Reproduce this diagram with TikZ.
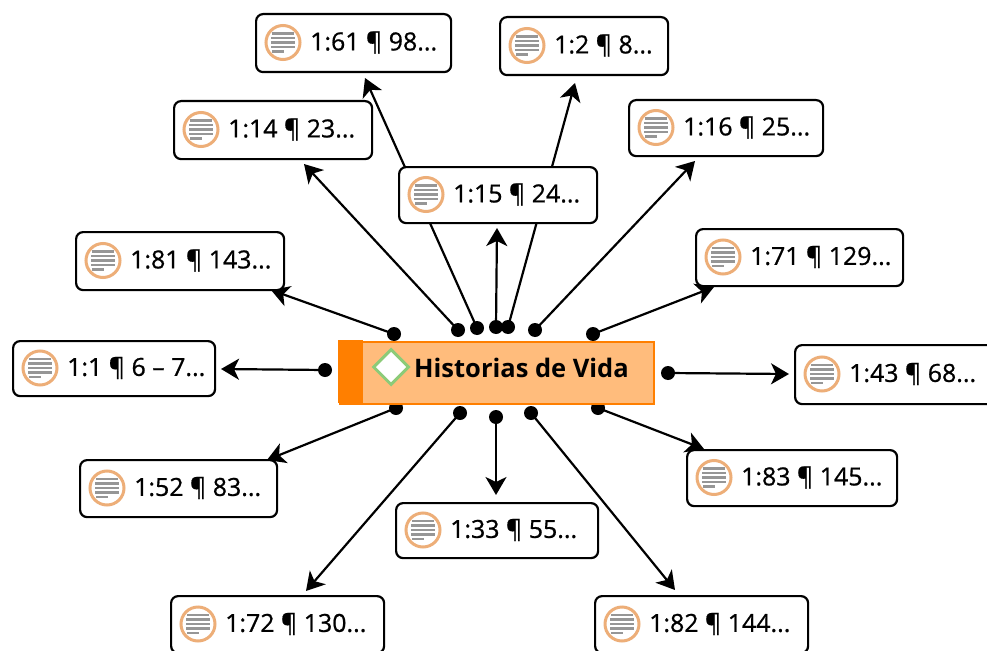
\documentclass[tikz,border=0pt]{standalone}
\usepackage{fontspec}
\setmainfont{Open Sans}
\usetikzlibrary{arrows.meta,shapes.geometric,calc}
\definecolor{ochre}{HTML}{EDAE78}
\definecolor{centrefill}{HTML}{FFBC7C}
\definecolor{centreedge}{HTML}{FF7F00}
\definecolor{diaedge}{HTML}{8CCB78}
\definecolor{barcol}{HTML}{969696}
\tikzset{
  x=1pt,y=-1pt,
  quotebox/.style={draw=black,line width=2.2pt,rounded corners=7pt,fill=white,inner sep=0pt,anchor=north west},
  quotelabel/.style={anchor=west,inner sep=0pt,font=\fontsize{24.9}{29}\selectfont\addfontfeature{FakeBold=0.8},text=black},
  iconring/.style={circle,draw=ochre,line width=3pt,fill=white,minimum size=34pt,inner sep=0pt},
  iconbar/.style={barcol,line width=2.4pt},
  dotend/.style={circle,fill=black,minimum size=14pt,inner sep=0pt},
  link/.style={draw=black,line width=2.2pt,-{Stealth[length=18pt,width=21pt,inset=5pt]}},
}
% name, x1, y1, x2, y2, text
\newcommand{\quotecard}[6]{%
  \node[quotebox,minimum width=#4pt-#2pt-1pt,minimum height=#5pt-#3pt-1pt] (#1) at (#2,#3) {};
  \node[iconring] (#1ic) at ($(#2,#3)!0.5!(#2,#5)+(28,0)$) {};
  \draw[iconbar] ($(#1ic)+(-11,-9)$) -- ($(#1ic)+(11,-9)$);
  \draw[iconbar] ($(#1ic)+(-12,-4.5)$) -- ($(#1ic)+(12,-4.5)$);
  \draw[iconbar] ($(#1ic)+(-12,0)$) -- ($(#1ic)+(12,0)$);
  \draw[iconbar] ($(#1ic)+(-12,4.5)$) -- ($(#1ic)+(12,4.5)$);
  \draw[iconbar] ($(#1ic)+(-11,9)$) -- ($(#1ic)+(1,9)$);
  \node[quotelabel] (#1t) at ($(#1ic)+(27,0)$) {#6};
}
\begin{document}
\begin{tikzpicture}
\clip (0,0) rectangle (987,650);
\useasboundingbox (0,0) rectangle (987,650);
\fill[white] (0,0) rectangle (987,650);

% connector ends
\foreach \n/\x/\y in {d61/477/328,d2/508/327,d14/458/330,d16/535/330,d15/496/327,d81/394/334,d71/593/334,d1/325/370,d43/668/373,d52/396/408,d83/598/408,d33/496/417,d72/460/413,d82/531/413}
  \node[dotend] (\n) at (\x,\y) {};
\foreach \n/\x/\y in {t61/365/78,t2/575/83,t14/304/164,t16/695/161,t15/497/228,t81/271/290,t71/714/287,t1/221/369,t43/789/374,t52/267/460,t83/704/449,t33/496/495,t72/306/591,t82/675/590}
  \coordinate (\n) at (\x,\y);

\foreach \a/\b in {d61/t61,d2/t2,d14/t14,d16/t16,d15/t15,d81/t81,d71/t71,d1/t1,d43/t43,d52/t52,d83/t83,d33/t33,d72/t72,d82/t82}
  \draw[link] (\a.center) -- (\b);

% cards
\quotecard{q61}{255}{13}{451}{72}{1:61 ¶ 98...}
\quotecard{q2}{499}{16}{668}{75}{1:2 ¶ 8...}
\quotecard{q14}{173}{100}{372}{159}{1:14 ¶ 23...}
\quotecard{q16}{628}{99}{823}{156}{1:16 ¶ 25...}
\quotecard{q15}{398}{166}{597}{223}{1:15 ¶ 24...}
\quotecard{q81}{75}{231}{284}{290}{1:81 ¶ 143...}
\quotecard{q71}{695}{228}{903}{286}{1:71 ¶ 129...}
\quotecard{q1}{12}{340}{215}{396}{1:1 ¶ 6 – 7...}
\quotecard{q43}{794}{344}{1000}{404}{1:43 ¶ 68...}
\quotecard{q52}{79}{459}{277}{517}{1:52 ¶ 83...}
\quotecard{q83}{686}{449}{897}{506}{1:83 ¶ 145...}
\quotecard{q33}{395}{502}{598}{558}{1:33 ¶ 55...}
\quotecard{q72}{170}{595}{384}{653}{1:72 ¶ 130...}
\quotecard{q82}{594}{595}{808}{653}{1:82 ¶ 144...}

% central code
\node[draw=centreedge,line width=2pt,fill=centrefill,anchor=north west,minimum width=314pt,minimum height=62pt,inner sep=0pt] (hv) at (339,341) {};
\fill[centreedge] (338,340) rectangle (363,403);
\node[diamond,draw=diaedge,line width=3pt,fill=white,minimum width=36pt,minimum height=36pt,inner sep=0pt] (hvd) at (391,367) {};
\node[anchor=west,inner sep=0pt,font=\fontsize{25.5}{29}\selectfont\bfseries] (hvt) at (414,368) {Historias de Vida};
\end{tikzpicture}
\end{document}
